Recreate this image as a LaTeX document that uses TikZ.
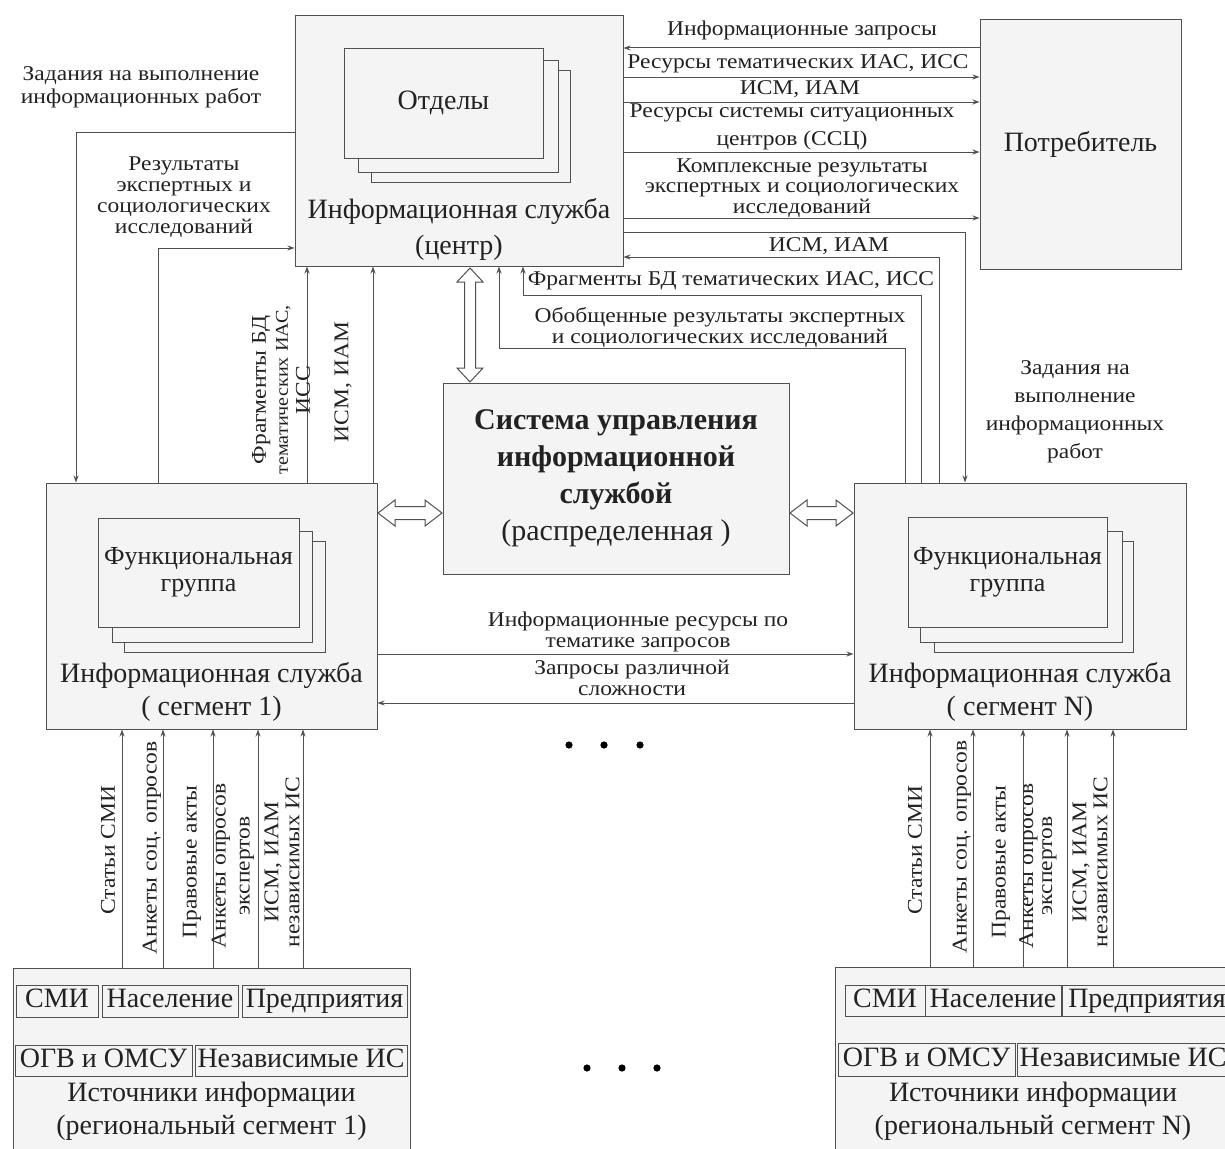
\documentclass[tikz,border=0pt]{standalone}
\usepackage{fontspec}
\setmainfont{Liberation Serif}
\newfontfamily\lblf[FakeStretch=1.12]{Liberation Serif}
\usetikzlibrary{arrows.meta}
\definecolor{ln}{HTML}{505050}
\definecolor{bx}{HTML}{F4F4F4}
\definecolor{tx}{HTML}{222222}
\begin{document}
\begin{tikzpicture}[x=1pt,y=-1pt,
  box/.style={draw=ln, fill=bx, line width=1pt, inner sep=0pt, text=tx, align=center, font=\fontsize{28}{33}\selectfont},
  ibox/.style={draw=ln, fill=bx, line width=0.9pt, inner sep=0pt, text=tx, align=center, font=\fontsize{28}{33}\selectfont},
  sbox/.style={ibox, text height=19pt, text depth=6pt},
  arr/.style={draw=ln, line width=1pt, -{Stealth[length=7pt,width=5pt]}},
  lbl/.style={font=\lblf\fontsize{21}{21}\selectfont, text=tx, align=center, inner sep=0pt},
  big/.style={font=\fontsize{28}{33}\selectfont, text=tx, align=center, inner sep=0pt},
  hollow/.style={draw=ln, fill=white, line width=1pt, line join=miter}]
\useasboundingbox (0,0) rectangle (1225,1148);
\clip (0,0) rectangle (1225,1148);
\fill[white] (0,0) rectangle (1225,1148);

% ---------- boxes ----------
\node[box, minimum width=201pt, minimum height=249pt] (cons) at (1080.5,144.5) {Потребитель};

\node[box, minimum width=328pt, minimum height=250pt] (cen) at (459,141) {};
\node[ibox, minimum width=199pt, minimum height=112pt] (ot3) at (470.5,126) {};
\node[ibox, minimum width=200pt, minimum height=112pt] (ot2) at (458,116) {};
\node[ibox, minimum width=199pt, minimum height=110pt] (ot1) at (443.5,103) {Отделы};
\node[big, font=\fontsize{28}{36}\selectfont] (cenT) at (459,229) {Информационная служба\\(центр)};

\node[box, minimum width=346pt, minimum height=191pt, font=\fontsize{30}{37}\selectfont] (sys) at (616,478.5)
  {\textbf{Система управления}\\\textbf{информационной}\\\textbf{службой}\\(распределенная )};

\node[box, minimum width=331pt, minimum height=246pt] (seg1) at (211.5,606) {};
\node[ibox, minimum width=201pt, minimum height=111pt] (fg1c) at (224.5,596.5) {};
\node[ibox, minimum width=200pt, minimum height=111pt] (fg1b) at (212,586.5) {};
\node[ibox, minimum width=201pt, minimum height=109pt, font=\fontsize{26}{27}\selectfont] (fg1) at (198.5,572.5) {Функциональная\\группа};
\node[big] (seg1T) at (211.5,691.5) {Информационная служба\\( сегмент 1)};

\node[box, minimum width=332pt, minimum height=246pt] (segN) at (1020,606) {};
\node[ibox, minimum width=199pt, minimum height=111pt] (fgNc) at (1033.5,596.5) {};
\node[ibox, minimum width=202pt, minimum height=111pt] (fgNb) at (1021,586.5) {};
\node[ibox, minimum width=199pt, minimum height=110pt, font=\fontsize{26}{27}\selectfont] (fgN) at (1007.5,572) {Функциональная\\группа};
\node[big] (segNT) at (1020,691.5) {Информационная служба\\( сегмент N)};

\node[box, minimum width=397pt, minimum height=192pt] (src1) at (211.5,1064) {};
\node[sbox, minimum width=82pt, minimum height=32pt] (s1a) at (57,1001) {СМИ};
\node[sbox, minimum width=136pt, minimum height=32pt] (s1b) at (170,1001) {Население};
\node[sbox, minimum width=165pt, minimum height=32pt] (s1c) at (324.5,1001) {Предприятия};
\node[sbox, minimum width=177pt, minimum height=31pt] (s1d) at (103.5,1060.5) {ОГВ и ОМСУ};
\node[sbox, minimum width=212pt, minimum height=31pt] (s1e) at (301,1060.5) {Независимые ИС};
\node[big] (src1T) at (211.5,1111.5) {Источники информации\\(региональный сегмент 1)};

\node[box, minimum width=405pt, minimum height=193pt] (srcN) at (1037.5,1063.5) {};
\node[sbox, minimum width=80pt, minimum height=31pt] (sNa) at (885,1000.5) {СМИ};
\node[sbox, minimum width=136pt, minimum height=31pt] (sNb) at (993,1000.5) {Население};
\node[sbox, minimum width=170pt, minimum height=31pt] (sNc) at (1147,1000.5) {Предприятия};
\node[sbox, minimum width=177pt, minimum height=33pt] (sNd) at (926.5,1059.5) {ОГВ и ОМСУ};
\node[sbox, minimum width=212pt, minimum height=33pt] (sNe) at (1123,1059.5) {Независимые ИС};
\node[big] (srcNT) at (1033,1111.5) {Источники информации\\(региональный сегмент N)};

% ---------- connectors centre <-> consumer ----------
\draw[arr] (cons.west |- 0,48) -- (cen.east |- 0,48);
\draw[arr] (cen.east |- 0,77) -- (cons.west |- 0,77);
\draw[arr] (cen.east |- 0,102) -- (cons.west |- 0,102);
\draw[arr] (cen.east |- 0,152) -- (cons.west |- 0,152);
\draw[arr] (cen.east |- 0,218) -- (cons.west |- 0,218);

\node[lbl] (l1) at (802,30) {Информационные запросы};
\node[lbl] (l2) at (798,64) {Ресурсы тематических ИАС, ИСС};
\node[lbl] (l3) at (800,89) {ИСМ, ИАМ};
\node[lbl] (l4) at (792,127) {Ресурсы системы ситуационных\\[7pt]центров  (ССЦ)};
\node[lbl, font=\lblf\fontsize{21}{20.5}\selectfont] (l5) at (802,188) {Комплексные результаты\\экспертных и социологических\\исследований};

% ---------- centre <-> segment N ----------
\draw[arr] (cen.east |- 0,232) -| (segN.north -| 965,0);
\draw[arr] (segN.north -| 939,0) |- (cen.east |- 0,257);
\draw[arr] (segN.north -| 921,0) -- (921,295) -- (523,295) -- (cen.south -| 523,0);
\draw[arr] (segN.north -| 905,0) -- (905,348) -- (499,348) -- (cen.south -| 499,0);

\node[lbl] (l6) at (829,246) {ИСМ, ИАМ};
\node[lbl] (l7) at (731,281) {Фрагменты БД тематических ИАС, ИСС};
\node[lbl, font=\lblf\fontsize{21}{21}\selectfont] (l8) at (720,328) {Обобщенные результаты экспертных\\и социологических исследований};
\node[lbl, font=\lblf\fontsize{21}{28}\selectfont] (l13) at (1075,412) {Задания на\\выполнение\\информационных\\работ};

% ---------- centre <-> segment 1 ----------
\draw[arr] (cen.west |- 0,132) -| (seg1.north -| 76,0);
\draw[arr] (seg1.north -| 158,0) |- (cen.west |- 0,248);
\draw[arr] (seg1.north -| 307,0) -- (cen.south -| 307,0);
\draw[arr] (seg1.north -| 373,0) -- (cen.south -| 373,0);

\node[lbl, font=\lblf\fontsize{21}{23}\selectfont] (l9) at (141,87) {Задания на выполнение\\информационных работ};
\node[lbl] (l10) at (184,197) {Результаты\\экспертных и\\социологических\\исследований};
\node[lbl, rotate=90, font=\lblf\fontsize{21}{22}\selectfont] (l11) at (281,390) {Фрагменты БД\\{\fontsize{18}{22}\selectfont тематических ИАС,}\\ИСС};
\node[lbl, rotate=90] (l12) at (343,382) {ИСМ, ИАМ};

% ---------- hollow double arrows ----------
\draw[hollow] (470,268) -- (483,282) -- (475.5,282) -- (475.5,368) -- (483,368) -- (470,382) -- (457,368) -- (464.5,368) -- (464.5,282) -- (457,282) -- cycle;
\draw[hollow] (378,513) -- (395,500) -- (395,506.5) -- (425,506.5) -- (425,500) -- (442,513) -- (425,526) -- (425,519.5) -- (395,519.5) -- (395,526) -- cycle;
\draw[hollow] (790,513) -- (807,500) -- (807,506.5) -- (836,506.5) -- (836,500) -- (853,513) -- (836,526) -- (836,519.5) -- (807,519.5) -- (807,526) -- cycle;

% ---------- segment 1 <-> segment N ----------
\draw[arr] (seg1.east |- 0,654) -- (segN.west |- 0,654);
\draw[arr] (segN.west |- 0,703) -- (seg1.east |- 0,703);
\node[lbl, font=\lblf\fontsize{21}{21}\selectfont] (l14) at (638,632) {Информационные ресурсы  по\\тематике запросов};
\node[lbl, font=\lblf\fontsize{21}{21}\selectfont] (l15) at (632,678) {Запросы различной\\сложности};

% ---------- dots ----------
\foreach \x in {569,604,640} \fill[black] (\x,745) circle[radius=3.6pt];
\foreach \x in {587,622,657} \fill[black] (\x,1068) circle[radius=3.6pt];

% ---------- sources -> segments ----------
\foreach \x in {122,163,213,258,303} \draw[arr] (src1.north -| \x,0) -- (seg1.south -| \x,0);
\foreach \x in {930,973,1023,1067,1113} \draw[arr] (srcN.north -| \x,0) -- (segN.south -| \x,0);

\node[lbl, rotate=90] (b1) at (108,850) {Статьи СМИ};
\node[lbl, rotate=90] (b2) at (152,848) {Анкеты соц. опросов};
\node[lbl, rotate=90] (b3) at (192,862) {Правовые акты};
\node[lbl, rotate=90, font=\lblf\fontsize{21}{24}\selectfont] (b4) at (233,866) {Анкеты опросов\\экспертов};
\node[lbl, rotate=90] (b5) at (282,862) {ИСМ, ИАМ\\независимых ИС};

\node[lbl, rotate=90] (c1) at (915,850) {Статьи СМИ};
\node[lbl, rotate=90] (c2) at (962,847) {Анкеты соц. опросов};
\node[lbl, rotate=90] (c3) at (1001,862) {Правовые акты};
\node[lbl, rotate=90, font=\lblf\fontsize{21}{19}\selectfont] (c4) at (1038,866) {Анкеты опросов\\экспертов};
\node[lbl, rotate=90] (c5) at (1090,862) {ИСМ, ИАМ\\независимых ИС};
\end{tikzpicture}
\end{document}
